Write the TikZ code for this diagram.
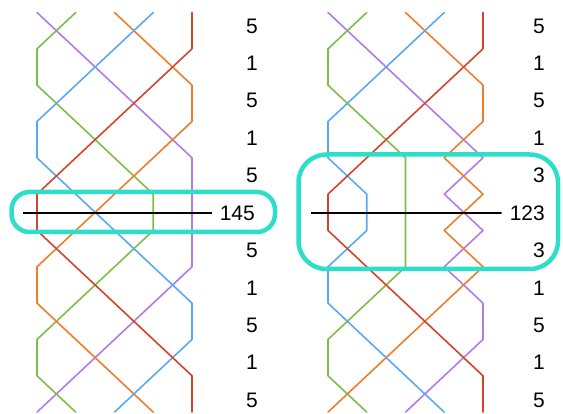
\documentclass[tikz,border=0pt]{standalone}
\usepackage{fontspec}
\setmainfont{Liberation Sans}
\definecolor{cR}{HTML}{D4442C}
\definecolor{cO}{HTML}{EE7E2C}
\definecolor{cG}{HTML}{7BBF4A}
\definecolor{cB}{HTML}{5BA8F5}
\definecolor{cP}{HTML}{B47AE6}
\definecolor{cT}{HTML}{2DDFC8}
\newcommand\bellline[4]{% colour, x offset, first place, remaining places
  \draw[bell,#1] ({#2+38.75*(#3-1)},12.5)
    \foreach \p [count=\i] in {#4} { -- ({#2+38.75*(\p-1)},{12.5+36.33*\i}) };
}
\begin{document}
\begin{tikzpicture}[x=1pt,y=-1pt,
  bell/.style={line width=1.6pt,line join=round,line cap=round},
  cutline/.style={line width=1.8pt,black},
  hbox/.style={draw=cT,line width=4.5pt},
  lab/.style={anchor=east,inner sep=0pt,font=\fontsize{21}{21}\selectfont}]
\useasboundingbox (0,0) rectangle (563,414);
% left method
\bellline{cP}{37}{1}{2,3,4,5,5,5,5,4,3,2,1}
\bellline{cG}{37}{2}{1,1,2,3,4,4,3,2,1,1,2}
\bellline{cO}{37}{3}{4,5,5,4,3,2,1,1,2,3,4}
\bellline{cB}{37}{4}{3,2,1,1,2,3,4,5,5,4,3}
\bellline{cR}{37}{5}{5,4,3,2,1,1,2,3,4,5,5}
% right method
\bellline{cP}{328}{1}{2,3,4,5,4,5,4,5,5,4,3}
\bellline{cG}{328}{2}{1,1,2,3,3,3,3,2,1,1,2}
\bellline{cO}{328}{3}{4,5,5,4,5,4,5,4,3,2,1}
\bellline{cB}{328}{4}{3,2,1,1,2,2,1,1,2,3,4}
\bellline{cR}{328}{5}{5,4,3,2,1,1,2,3,4,5,5}
% highlight boxes
\draw[hbox,rounded corners=18pt] (11.5,192) rectangle (275,232);
\draw[hbox,rounded corners=28pt] (298.5,154.5) rectangle (558,269);
% labels left
\foreach \t [count=\k from 0] in {5,1,5,1,5,,5,1,5,1,5}
  \node[lab] (L\k) at (258,{26+37.4*\k}) {\t};
\node[lab] (L145) at (255,213) {145};
% labels right
\foreach \t [count=\k from 0] in {5,1,5,1,3,123,3,1,5,1,5}
  \node[lab] (R\k) at (545,{26+37.4*\k}) {\t};
% cut lines
\coordinate (la) at (23,213);
\coordinate (ra) at (311,213);
\draw[cutline] (la) -- ([xshift=-8pt]L145.west);
\draw[cutline] (ra) -- ([xshift=-8pt]R5.west);
\end{tikzpicture}
\end{document}
